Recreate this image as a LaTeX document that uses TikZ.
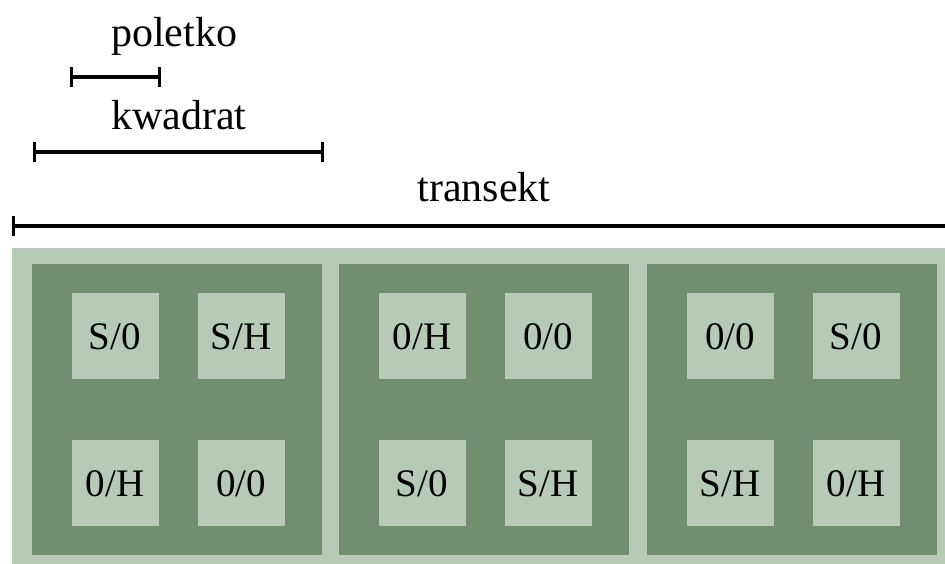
\documentclass[tikz,border=0pt]{standalone}
\usepackage{fontspec}
\setmainfont{Liberation Serif}
\usetikzlibrary{arrows.meta}
\definecolor{paleplot}{RGB}{183,201,183}
\definecolor{deepplot}{RGB}{111,143,111}
\tikzset{
  transectbox/.style={fill=paleplot, draw=none, anchor=north west, inner sep=0pt,
    minimum width=933pt, minimum height=316pt},
  quadratbox/.style={fill=deepplot, draw=none, anchor=north west, inner sep=0pt,
    minimum width=290pt, minimum height=291pt},
  plotbox/.style={fill=paleplot, draw=none, inner sep=0pt,
    minimum width=87pt, minimum height=86pt, font=\fontsize{39}{39}\selectfont,
    text height=26pt, text depth=0pt},
  barend/.tip={Bar[width=20pt,line width=3pt]},
  scalebar/.style={line width=4pt, barend-barend},
  scalelabel/.style={anchor=base, inner sep=0pt, font=\fontsize{42}{42}\selectfont}
}
\begin{document}
\begin{tikzpicture}[x=1pt,y=-1pt]
\useasboundingbox (0,0) rectangle (945,564);

% scale bars with their labels
\coordinate (pA) at (70,77);   \coordinate (pB) at (161,77);
\coordinate (kA) at (33,152);  \coordinate (kB) at (324,152);
\coordinate (tA) at (12,226);  \coordinate (tB) at (946,226);
\node[scalelabel] (lpoletko) at (174,47) {poletko};
\node[scalelabel] (lkwadrat) at (179,130) {kwadrat};
\node[scalelabel] (ltransekt) at (484,202) {transekt};
\draw[scalebar] (pA) -- (pB);
\draw[scalebar] (kA) -- (kB);
\draw[line width=4pt, barend-] (tA) -- (tB);

% transect with three quadrats of four plots each
\node[transectbox] (transect) at (12,248) {};
\foreach \q/\qx/\a/\b/\c/\d in {1/32/S\slash 0/S\slash H/0\slash H/0\slash 0,
                               2/339/0\slash H/0\slash 0/S\slash 0/S\slash H,
                               3/647/0\slash 0/S\slash 0/S\slash H/0\slash H}{
  \node[quadratbox] (q\q) at (\qx,264) {};
  \node[plotbox] (q\q a) at (\qx+83,336) {\a};
  \node[plotbox] (q\q b) at (\qx+209,336) {\b};
  \node[plotbox] (q\q c) at (\qx+83,483) {\c};
  \node[plotbox] (q\q d) at (\qx+209,483) {\d};
}
\end{tikzpicture}
\end{document}
